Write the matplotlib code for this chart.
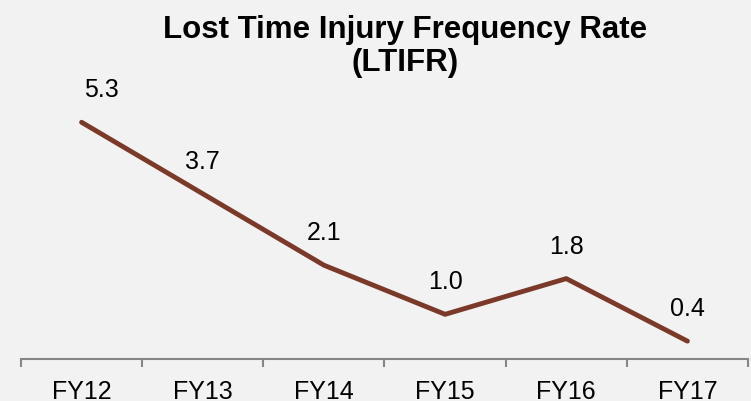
import numpy as np
import matplotlib.pyplot as plt

years = ['FY12', 'FY13', 'FY14', 'FY15', 'FY16', 'FY17']
ltifr = [5.3, 3.7, 2.1, 1.0, 1.8, 0.4]

plt.rcParams['font.family'] = ['Liberation Sans', 'DejaVu Sans']

bg = '#f2f2f2'
fig = plt.figure(figsize=(7.51, 4.01), dpi=100, facecolor=bg)
ax = fig.add_axes([21/751, 42/401, 727/751, 268/401], facecolor=bg)

x = np.arange(len(years))
ax.plot(x, ltifr, color='#7b3a29', lw=3.5, solid_capstyle='round', solid_joinstyle='round')

# data labels above each point (first one nudged right like the original)
for i, v in enumerate(ltifr):
    dx = 20 if i == 0 else 0
    ax.annotate(f'{v:.1f}', (x[i], v), xytext=(dx, 32), textcoords='offset pixels',
                ha='center', va='center', fontsize=18, color='black')

ax.set_xlim(-0.5, len(years) - 0.5)
ax.set_ylim(0, 6)

for s in ['left', 'right', 'top']:
    ax.spines[s].set_visible(False)
ax.spines['bottom'].set_color('#868686')
ax.spines['bottom'].set_linewidth(1.5)
ax.set_yticks([])

# ticks between categories, labels at centers
ax.set_xticks(np.arange(-0.5, len(years)), minor=False)
ax.set_xticklabels([])
ax.set_xticks(x, minor=True)
ax.set_xticklabels(years, minor=True, fontsize=18)
ax.tick_params(axis='x', which='major', length=6, width=1.5, color='#868686', direction='out')
ax.tick_params(axis='x', which='minor', length=0, pad=15)

fig.text(405/751, 1 - 30/401, 'Lost Time Injury Frequency Rate', ha='center', va='center',
         fontsize=22.5, fontweight='bold')
fig.text(405/751, 1 - 63/401, '(LTIFR)', ha='center', va='center',
         fontsize=22.5, fontweight='bold')

fig.savefig('out.png', dpi=100, facecolor=bg)
